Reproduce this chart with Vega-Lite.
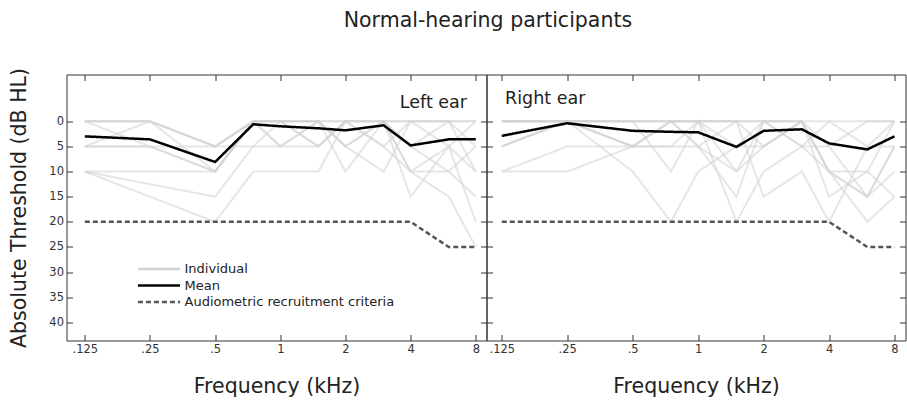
{
"$schema": "https://vega.github.io/schema/vega-lite/v6.json",
"padding": {"left": 8.5, "top": 10.5, "right": 0, "bottom": 0},
"spacing": 0,
"bounds": "flush",
"title": {"text": "Normal-hearing participants", "fontSize": 20.5, "fontWeight": "normal", "color": "#222", "anchor": "middle", "frame": "bounds", "dx": 30, "offset": 35},
"config": {
  "font": "DejaVu Sans",
  "view": {"stroke": "#333", "strokeWidth": 1},
  "axis": {"domain": false, "grid": false, "tickColor": "#333", "tickSize": -6, "labelPadding": 9, "labelFontSize": 11.5, "labelColor": "#333", "titleFontSize": 20.5, "titleFontWeight": "normal", "titleColor": "#222"}
},
"data": {"values": [
{"ear":"Left","series":"Individual","id":"L1","kHz":0.125,"dB":0},{"ear":"Left","series":"Individual","id":"L1","kHz":0.25,"dB":0},{"ear":"Left","series":"Individual","id":"L1","kHz":0.5,"dB":5},{"ear":"Left","series":"Individual","id":"L1","kHz":0.75,"dB":0},{"ear":"Left","series":"Individual","id":"L1","kHz":1,"dB":0},{"ear":"Left","series":"Individual","id":"L1","kHz":1.5,"dB":0},{"ear":"Left","series":"Individual","id":"L1","kHz":2,"dB":0},{"ear":"Left","series":"Individual","id":"L1","kHz":3,"dB":0},{"ear":"Left","series":"Individual","id":"L1","kHz":4,"dB":0},{"ear":"Left","series":"Individual","id":"L1","kHz":6,"dB":0},{"ear":"Left","series":"Individual","id":"L1","kHz":8,"dB":0},
{"ear":"Left","series":"Individual","id":"L2","kHz":0.125,"dB":0},{"ear":"Left","series":"Individual","id":"L2","kHz":0.25,"dB":0},{"ear":"Left","series":"Individual","id":"L2","kHz":0.5,"dB":10},{"ear":"Left","series":"Individual","id":"L2","kHz":0.75,"dB":0},{"ear":"Left","series":"Individual","id":"L2","kHz":1,"dB":0},{"ear":"Left","series":"Individual","id":"L2","kHz":1.5,"dB":5},{"ear":"Left","series":"Individual","id":"L2","kHz":2,"dB":0},{"ear":"Left","series":"Individual","id":"L2","kHz":3,"dB":0},{"ear":"Left","series":"Individual","id":"L2","kHz":4,"dB":10},{"ear":"Left","series":"Individual","id":"L2","kHz":6,"dB":5},{"ear":"Left","series":"Individual","id":"L2","kHz":8,"dB":0},
{"ear":"Left","series":"Individual","id":"L3","kHz":0.125,"dB":5},{"ear":"Left","series":"Individual","id":"L3","kHz":0.25,"dB":5},{"ear":"Left","series":"Individual","id":"L3","kHz":0.5,"dB":10},{"ear":"Left","series":"Individual","id":"L3","kHz":0.75,"dB":0},{"ear":"Left","series":"Individual","id":"L3","kHz":1,"dB":5},{"ear":"Left","series":"Individual","id":"L3","kHz":1.5,"dB":0},{"ear":"Left","series":"Individual","id":"L3","kHz":2,"dB":0},{"ear":"Left","series":"Individual","id":"L3","kHz":3,"dB":5},{"ear":"Left","series":"Individual","id":"L3","kHz":4,"dB":0},{"ear":"Left","series":"Individual","id":"L3","kHz":6,"dB":0},{"ear":"Left","series":"Individual","id":"L3","kHz":8,"dB":5},
{"ear":"Left","series":"Individual","id":"L4","kHz":0.125,"dB":10},{"ear":"Left","series":"Individual","id":"L4","kHz":0.25,"dB":10},{"ear":"Left","series":"Individual","id":"L4","kHz":0.5,"dB":10},{"ear":"Left","series":"Individual","id":"L4","kHz":0.75,"dB":0},{"ear":"Left","series":"Individual","id":"L4","kHz":1,"dB":0},{"ear":"Left","series":"Individual","id":"L4","kHz":1.5,"dB":0},{"ear":"Left","series":"Individual","id":"L4","kHz":2,"dB":5},{"ear":"Left","series":"Individual","id":"L4","kHz":3,"dB":0},{"ear":"Left","series":"Individual","id":"L4","kHz":4,"dB":5},{"ear":"Left","series":"Individual","id":"L4","kHz":6,"dB":0},{"ear":"Left","series":"Individual","id":"L4","kHz":8,"dB":10},
{"ear":"Left","series":"Individual","id":"L5","kHz":0.125,"dB":10},{"ear":"Left","series":"Individual","id":"L5","kHz":0.25,"dB":12.5},{"ear":"Left","series":"Individual","id":"L5","kHz":0.5,"dB":15},{"ear":"Left","series":"Individual","id":"L5","kHz":0.75,"dB":5},{"ear":"Left","series":"Individual","id":"L5","kHz":1,"dB":5},{"ear":"Left","series":"Individual","id":"L5","kHz":1.5,"dB":0},{"ear":"Left","series":"Individual","id":"L5","kHz":2,"dB":10},{"ear":"Left","series":"Individual","id":"L5","kHz":3,"dB":0},{"ear":"Left","series":"Individual","id":"L5","kHz":4,"dB":15},{"ear":"Left","series":"Individual","id":"L5","kHz":6,"dB":5},{"ear":"Left","series":"Individual","id":"L5","kHz":8,"dB":20},
{"ear":"Left","series":"Individual","id":"L6","kHz":0.125,"dB":10},{"ear":"Left","series":"Individual","id":"L6","kHz":0.25,"dB":15},{"ear":"Left","series":"Individual","id":"L6","kHz":0.5,"dB":20},{"ear":"Left","series":"Individual","id":"L6","kHz":0.75,"dB":10},{"ear":"Left","series":"Individual","id":"L6","kHz":1,"dB":10},{"ear":"Left","series":"Individual","id":"L6","kHz":1.5,"dB":10},{"ear":"Left","series":"Individual","id":"L6","kHz":2,"dB":0},{"ear":"Left","series":"Individual","id":"L6","kHz":3,"dB":5},{"ear":"Left","series":"Individual","id":"L6","kHz":4,"dB":10},{"ear":"Left","series":"Individual","id":"L6","kHz":6,"dB":15},{"ear":"Left","series":"Individual","id":"L6","kHz":8,"dB":25},
{"ear":"Left","series":"Individual","id":"L7","kHz":0.125,"dB":0},{"ear":"Left","series":"Individual","id":"L7","kHz":0.25,"dB":5},{"ear":"Left","series":"Individual","id":"L7","kHz":0.5,"dB":10},{"ear":"Left","series":"Individual","id":"L7","kHz":0.75,"dB":0},{"ear":"Left","series":"Individual","id":"L7","kHz":1,"dB":0},{"ear":"Left","series":"Individual","id":"L7","kHz":1.5,"dB":5},{"ear":"Left","series":"Individual","id":"L7","kHz":2,"dB":0},{"ear":"Left","series":"Individual","id":"L7","kHz":3,"dB":0},{"ear":"Left","series":"Individual","id":"L7","kHz":4,"dB":5},{"ear":"Left","series":"Individual","id":"L7","kHz":6,"dB":10},{"ear":"Left","series":"Individual","id":"L7","kHz":8,"dB":5},
{"ear":"Left","series":"Individual","id":"L8","kHz":0.125,"dB":5},{"ear":"Left","series":"Individual","id":"L8","kHz":0.25,"dB":0},{"ear":"Left","series":"Individual","id":"L8","kHz":0.5,"dB":5},{"ear":"Left","series":"Individual","id":"L8","kHz":0.75,"dB":0},{"ear":"Left","series":"Individual","id":"L8","kHz":1,"dB":0},{"ear":"Left","series":"Individual","id":"L8","kHz":1.5,"dB":0},{"ear":"Left","series":"Individual","id":"L8","kHz":2,"dB":5},{"ear":"Left","series":"Individual","id":"L8","kHz":3,"dB":0},{"ear":"Left","series":"Individual","id":"L8","kHz":4,"dB":0},{"ear":"Left","series":"Individual","id":"L8","kHz":6,"dB":0},{"ear":"Left","series":"Individual","id":"L8","kHz":8,"dB":0},
{"ear":"Left","series":"Individual","id":"L9","kHz":0.125,"dB":0},{"ear":"Left","series":"Individual","id":"L9","kHz":0.25,"dB":0},{"ear":"Left","series":"Individual","id":"L9","kHz":0.5,"dB":5},{"ear":"Left","series":"Individual","id":"L9","kHz":0.75,"dB":5},{"ear":"Left","series":"Individual","id":"L9","kHz":1,"dB":0},{"ear":"Left","series":"Individual","id":"L9","kHz":1.5,"dB":0},{"ear":"Left","series":"Individual","id":"L9","kHz":2,"dB":5},{"ear":"Left","series":"Individual","id":"L9","kHz":3,"dB":10},{"ear":"Left","series":"Individual","id":"L9","kHz":4,"dB":0},{"ear":"Left","series":"Individual","id":"L9","kHz":6,"dB":5},{"ear":"Left","series":"Individual","id":"L9","kHz":8,"dB":10},
{"ear":"Left","series":"Individual","id":"L10","kHz":0.125,"dB":5},{"ear":"Left","series":"Individual","id":"L10","kHz":0.25,"dB":5},{"ear":"Left","series":"Individual","id":"L10","kHz":0.5,"dB":5},{"ear":"Left","series":"Individual","id":"L10","kHz":0.75,"dB":0},{"ear":"Left","series":"Individual","id":"L10","kHz":1,"dB":5},{"ear":"Left","series":"Individual","id":"L10","kHz":1.5,"dB":5},{"ear":"Left","series":"Individual","id":"L10","kHz":2,"dB":0},{"ear":"Left","series":"Individual","id":"L10","kHz":3,"dB":0},{"ear":"Left","series":"Individual","id":"L10","kHz":4,"dB":10},{"ear":"Left","series":"Individual","id":"L10","kHz":6,"dB":10},{"ear":"Left","series":"Individual","id":"L10","kHz":8,"dB":15},
{"ear":"Right","series":"Individual","id":"R1","kHz":0.125,"dB":0},{"ear":"Right","series":"Individual","id":"R1","kHz":0.25,"dB":0},{"ear":"Right","series":"Individual","id":"R1","kHz":0.5,"dB":0},{"ear":"Right","series":"Individual","id":"R1","kHz":0.75,"dB":0},{"ear":"Right","series":"Individual","id":"R1","kHz":1,"dB":0},{"ear":"Right","series":"Individual","id":"R1","kHz":1.5,"dB":0},{"ear":"Right","series":"Individual","id":"R1","kHz":2,"dB":0},{"ear":"Right","series":"Individual","id":"R1","kHz":3,"dB":0},{"ear":"Right","series":"Individual","id":"R1","kHz":4,"dB":0},{"ear":"Right","series":"Individual","id":"R1","kHz":6,"dB":0},{"ear":"Right","series":"Individual","id":"R1","kHz":8,"dB":0},
{"ear":"Right","series":"Individual","id":"R2","kHz":0.125,"dB":5},{"ear":"Right","series":"Individual","id":"R2","kHz":0.25,"dB":0},{"ear":"Right","series":"Individual","id":"R2","kHz":0.5,"dB":5},{"ear":"Right","series":"Individual","id":"R2","kHz":0.75,"dB":5},{"ear":"Right","series":"Individual","id":"R2","kHz":1,"dB":5},{"ear":"Right","series":"Individual","id":"R2","kHz":1.5,"dB":10},{"ear":"Right","series":"Individual","id":"R2","kHz":2,"dB":0},{"ear":"Right","series":"Individual","id":"R2","kHz":3,"dB":0},{"ear":"Right","series":"Individual","id":"R2","kHz":4,"dB":10},{"ear":"Right","series":"Individual","id":"R2","kHz":6,"dB":10},{"ear":"Right","series":"Individual","id":"R2","kHz":8,"dB":0},
{"ear":"Right","series":"Individual","id":"R3","kHz":0.125,"dB":5},{"ear":"Right","series":"Individual","id":"R3","kHz":0.25,"dB":0},{"ear":"Right","series":"Individual","id":"R3","kHz":0.5,"dB":5},{"ear":"Right","series":"Individual","id":"R3","kHz":0.75,"dB":0},{"ear":"Right","series":"Individual","id":"R3","kHz":1,"dB":0},{"ear":"Right","series":"Individual","id":"R3","kHz":1.5,"dB":5},{"ear":"Right","series":"Individual","id":"R3","kHz":2,"dB":0},{"ear":"Right","series":"Individual","id":"R3","kHz":3,"dB":5},{"ear":"Right","series":"Individual","id":"R3","kHz":4,"dB":5},{"ear":"Right","series":"Individual","id":"R3","kHz":6,"dB":15},{"ear":"Right","series":"Individual","id":"R3","kHz":8,"dB":5},
{"ear":"Right","series":"Individual","id":"R4","kHz":0.125,"dB":10},{"ear":"Right","series":"Individual","id":"R4","kHz":0.25,"dB":10},{"ear":"Right","series":"Individual","id":"R4","kHz":0.5,"dB":5},{"ear":"Right","series":"Individual","id":"R4","kHz":0.75,"dB":0},{"ear":"Right","series":"Individual","id":"R4","kHz":1,"dB":5},{"ear":"Right","series":"Individual","id":"R4","kHz":1.5,"dB":15},{"ear":"Right","series":"Individual","id":"R4","kHz":2,"dB":0},{"ear":"Right","series":"Individual","id":"R4","kHz":3,"dB":5},{"ear":"Right","series":"Individual","id":"R4","kHz":4,"dB":0},{"ear":"Right","series":"Individual","id":"R4","kHz":6,"dB":5},{"ear":"Right","series":"Individual","id":"R4","kHz":8,"dB":0},
{"ear":"Right","series":"Individual","id":"R5","kHz":0.125,"dB":0},{"ear":"Right","series":"Individual","id":"R5","kHz":0.25,"dB":0},{"ear":"Right","series":"Individual","id":"R5","kHz":0.5,"dB":10},{"ear":"Right","series":"Individual","id":"R5","kHz":0.75,"dB":20},{"ear":"Right","series":"Individual","id":"R5","kHz":1,"dB":10},{"ear":"Right","series":"Individual","id":"R5","kHz":1.5,"dB":5},{"ear":"Right","series":"Individual","id":"R5","kHz":2,"dB":5},{"ear":"Right","series":"Individual","id":"R5","kHz":3,"dB":0},{"ear":"Right","series":"Individual","id":"R5","kHz":4,"dB":15},{"ear":"Right","series":"Individual","id":"R5","kHz":6,"dB":10},{"ear":"Right","series":"Individual","id":"R5","kHz":8,"dB":15},
{"ear":"Right","series":"Individual","id":"R6","kHz":0.125,"dB":0},{"ear":"Right","series":"Individual","id":"R6","kHz":0.25,"dB":0},{"ear":"Right","series":"Individual","id":"R6","kHz":0.5,"dB":0},{"ear":"Right","series":"Individual","id":"R6","kHz":0.75,"dB":10},{"ear":"Right","series":"Individual","id":"R6","kHz":1,"dB":0},{"ear":"Right","series":"Individual","id":"R6","kHz":1.5,"dB":20},{"ear":"Right","series":"Individual","id":"R6","kHz":2,"dB":10},{"ear":"Right","series":"Individual","id":"R6","kHz":3,"dB":5},{"ear":"Right","series":"Individual","id":"R6","kHz":4,"dB":10},{"ear":"Right","series":"Individual","id":"R6","kHz":6,"dB":15},{"ear":"Right","series":"Individual","id":"R6","kHz":8,"dB":5},
{"ear":"Right","series":"Individual","id":"R7","kHz":0.125,"dB":5},{"ear":"Right","series":"Individual","id":"R7","kHz":0.25,"dB":0},{"ear":"Right","series":"Individual","id":"R7","kHz":0.5,"dB":0},{"ear":"Right","series":"Individual","id":"R7","kHz":0.75,"dB":0},{"ear":"Right","series":"Individual","id":"R7","kHz":1,"dB":0},{"ear":"Right","series":"Individual","id":"R7","kHz":1.5,"dB":0},{"ear":"Right","series":"Individual","id":"R7","kHz":2,"dB":0},{"ear":"Right","series":"Individual","id":"R7","kHz":3,"dB":0},{"ear":"Right","series":"Individual","id":"R7","kHz":4,"dB":5},{"ear":"Right","series":"Individual","id":"R7","kHz":6,"dB":0},{"ear":"Right","series":"Individual","id":"R7","kHz":8,"dB":0},
{"ear":"Right","series":"Individual","id":"R8","kHz":0.125,"dB":0},{"ear":"Right","series":"Individual","id":"R8","kHz":0.25,"dB":0},{"ear":"Right","series":"Individual","id":"R8","kHz":0.5,"dB":0},{"ear":"Right","series":"Individual","id":"R8","kHz":0.75,"dB":0},{"ear":"Right","series":"Individual","id":"R8","kHz":1,"dB":5},{"ear":"Right","series":"Individual","id":"R8","kHz":1.5,"dB":0},{"ear":"Right","series":"Individual","id":"R8","kHz":2,"dB":15},{"ear":"Right","series":"Individual","id":"R8","kHz":3,"dB":10},{"ear":"Right","series":"Individual","id":"R8","kHz":4,"dB":20},{"ear":"Right","series":"Individual","id":"R8","kHz":6,"dB":5},{"ear":"Right","series":"Individual","id":"R8","kHz":8,"dB":5},
{"ear":"Right","series":"Individual","id":"R9","kHz":0.125,"dB":10},{"ear":"Right","series":"Individual","id":"R9","kHz":0.25,"dB":5},{"ear":"Right","series":"Individual","id":"R9","kHz":0.5,"dB":5},{"ear":"Right","series":"Individual","id":"R9","kHz":0.75,"dB":5},{"ear":"Right","series":"Individual","id":"R9","kHz":1,"dB":0},{"ear":"Right","series":"Individual","id":"R9","kHz":1.5,"dB":0},{"ear":"Right","series":"Individual","id":"R9","kHz":2,"dB":5},{"ear":"Right","series":"Individual","id":"R9","kHz":3,"dB":0},{"ear":"Right","series":"Individual","id":"R9","kHz":4,"dB":10},{"ear":"Right","series":"Individual","id":"R9","kHz":6,"dB":15},{"ear":"Right","series":"Individual","id":"R9","kHz":8,"dB":10},
{"ear":"Right","series":"Individual","id":"R10","kHz":0.125,"dB":0},{"ear":"Right","series":"Individual","id":"R10","kHz":0.25,"dB":0},{"ear":"Right","series":"Individual","id":"R10","kHz":0.5,"dB":5},{"ear":"Right","series":"Individual","id":"R10","kHz":0.75,"dB":0},{"ear":"Right","series":"Individual","id":"R10","kHz":1,"dB":0},{"ear":"Right","series":"Individual","id":"R10","kHz":1.5,"dB":10},{"ear":"Right","series":"Individual","id":"R10","kHz":2,"dB":5},{"ear":"Right","series":"Individual","id":"R10","kHz":3,"dB":0},{"ear":"Right","series":"Individual","id":"R10","kHz":4,"dB":10},{"ear":"Right","series":"Individual","id":"R10","kHz":6,"dB":20},{"ear":"Right","series":"Individual","id":"R10","kHz":8,"dB":15},
{"ear":"Left","series":"Audiometric recruitment criteria","id":"CL","kHz":0.125,"dB":20},{"ear":"Left","series":"Audiometric recruitment criteria","id":"CL","kHz":4,"dB":20},{"ear":"Left","series":"Audiometric recruitment criteria","id":"CL","kHz":6,"dB":25},{"ear":"Left","series":"Audiometric recruitment criteria","id":"CL","kHz":8,"dB":25},
{"ear":"Right","series":"Audiometric recruitment criteria","id":"CR","kHz":0.125,"dB":20},{"ear":"Right","series":"Audiometric recruitment criteria","id":"CR","kHz":4,"dB":20},{"ear":"Right","series":"Audiometric recruitment criteria","id":"CR","kHz":6,"dB":25},{"ear":"Right","series":"Audiometric recruitment criteria","id":"CR","kHz":8,"dB":25},
{"ear":"Left","series":"Mean","id":"ML","kHz":0.125,"dB":3.0},{"ear":"Left","series":"Mean","id":"ML","kHz":0.25,"dB":3.6},{"ear":"Left","series":"Mean","id":"ML","kHz":0.5,"dB":8.1},{"ear":"Left","series":"Mean","id":"ML","kHz":0.75,"dB":0.6},{"ear":"Left","series":"Mean","id":"ML","kHz":1,"dB":1.0},{"ear":"Left","series":"Mean","id":"ML","kHz":1.5,"dB":1.4},{"ear":"Left","series":"Mean","id":"ML","kHz":2,"dB":1.8},{"ear":"Left","series":"Mean","id":"ML","kHz":3,"dB":0.8},{"ear":"Left","series":"Mean","id":"ML","kHz":4,"dB":4.8},{"ear":"Left","series":"Mean","id":"ML","kHz":6,"dB":3.6},{"ear":"Left","series":"Mean","id":"ML","kHz":8,"dB":3.6},
{"ear":"Right","series":"Mean","id":"MR","kHz":0.125,"dB":2.9},{"ear":"Right","series":"Mean","id":"MR","kHz":0.25,"dB":0.4},{"ear":"Right","series":"Mean","id":"MR","kHz":0.5,"dB":1.9},{"ear":"Right","series":"Mean","id":"MR","kHz":0.75,"dB":2.1},{"ear":"Right","series":"Mean","id":"MR","kHz":1,"dB":2.2},{"ear":"Right","series":"Mean","id":"MR","kHz":1.5,"dB":5.1},{"ear":"Right","series":"Mean","id":"MR","kHz":2,"dB":1.9},{"ear":"Right","series":"Mean","id":"MR","kHz":3,"dB":1.6},{"ear":"Right","series":"Mean","id":"MR","kHz":4,"dB":4.4},{"ear":"Right","series":"Mean","id":"MR","kHz":6,"dB":5.6},{"ear":"Right","series":"Mean","id":"MR","kHz":8,"dB":3.0}
]},
"hconcat": [
{
  "width": 420, "height": 266,
  "title": {"text": "Left ear", "anchor": "end", "offset": -44, "dx": -20, "fontSize": 17.5, "fontWeight": "normal", "color": "#222"},
  "transform": [{"filter": "datum.ear === 'Left'"}],
  "layer": [
    {
      "transform": [{"filter": "datum.series === 'Individual'"}],
      "mark": {"type": "line", "strokeWidth": 2, "strokeOpacity": 0.55},
      "encoding": {
        "x": {"field": "kHz", "type": "quantitative", "scale": {"type": "log", "base": 2, "domain": [0.10288, 8.965], "nice": false, "zero": false},
              "axis": {"orient": "bottom", "values": [0.125, 0.25, 0.5, 1, 2, 4, 8], "labelExpr": "datum.value == 0.125 ? '.125' : datum.value == 0.25 ? '.25' : datum.value == 0.5 ? '.5' : '' + datum.value", "title": "Frequency (kHz)", "titlePadding": 21}},
        "y": {"field": "dB", "type": "quantitative", "scale": {"domain": [-9.3, 43.6], "reverse": true, "nice": false, "zero": false},
              "axis": {"orient": "left", "values": [0, 5, 10, 15, 20, 25, 30, 35, 40], "title": "Absolute Threshold (dB HL)", "titlePadding": 19}},
        "detail": {"field": "id"},
        "color": {"field": "series", "type": "nominal", "scale": {"domain": ["Individual", "Mean", "Audiometric recruitment criteria"], "range": ["#d2d2d2", "#000000", "#555555"]}},
        "strokeDash": {"field": "series", "type": "nominal", "scale": {"domain": ["Individual", "Mean", "Audiometric recruitment criteria"], "range": [[1, 0], [1, 0], [5, 3]]}}
      }
    },
    {
      "transform": [{"filter": "datum.series === 'Audiometric recruitment criteria'"}],
      "mark": {"type": "line", "strokeWidth": 2.5},
      "encoding": {
        "x": {"field": "kHz", "type": "quantitative", "axis": null},
        "y": {"field": "dB", "type": "quantitative", "axis": null},
        "color": {"field": "series", "type": "nominal"},
        "strokeDash": {"field": "series", "type": "nominal"}
      }
    },
    {
      "transform": [{"filter": "datum.series === 'Mean'"}],
      "mark": {"type": "line", "strokeWidth": 2.5},
      "encoding": {
        "x": {"field": "kHz", "type": "quantitative", "axis": null},
        "y": {"field": "dB", "type": "quantitative", "axis": null},
        "color": {"field": "series", "type": "nominal",
                  "legend": {"orient": "none", "legendX": 86, "legendY": 188, "title": null, "symbolType": "M-5,0H5", "symbolSize": 71, "symbolStrokeWidth": 2.5, "symbolOpacity": 1, "labelFontSize": 13, "labelColor": "#222", "labelOffset": 19, "labelLimit": 400, "padding": 0, "rowPadding": 2.5}},
        "strokeDash": {"field": "series", "type": "nominal"}
      }
    },
    {
      "transform": [{"filter": "datum.series === 'Mean'"}],
      "mark": {"type": "line", "opacity": 0},
      "encoding": {
        "x": {"field": "kHz", "type": "quantitative", "axis": {"orient": "top", "values": [0.125, 0.25, 0.5, 1, 2, 4, 8], "labels": false, "title": null}},
        "y": {"field": "dB", "type": "quantitative", "axis": {"orient": "right", "values": [0, 5, 10, 15, 20, 25, 30, 35, 40], "labels": false, "title": null}}
      }
    }
  ]
},
{
  "width": 419, "height": 266,
  "title": {"text": "Right ear", "anchor": "start", "offset": -33, "dx": 19, "fontSize": 17.5, "fontWeight": "normal", "color": "#222"},
  "transform": [{"filter": "datum.ear === 'Right'"}],
  "layer": [
    {
      "transform": [{"filter": "datum.series === 'Individual'"}],
      "mark": {"type": "line", "strokeWidth": 2, "strokeOpacity": 0.55},
      "encoding": {
        "x": {"field": "kHz", "type": "quantitative", "scale": {"type": "log", "base": 2, "domain": [0.10631, 8.988], "nice": false, "zero": false},
              "axis": {"orient": "bottom", "values": [0.125, 0.25, 0.5, 1, 2, 4, 8], "labelExpr": "datum.value == 0.125 ? '.125' : datum.value == 0.25 ? '.25' : datum.value == 0.5 ? '.5' : '' + datum.value", "title": "Frequency (kHz)", "titlePadding": 21}},
        "y": {"field": "dB", "type": "quantitative", "scale": {"domain": [-9.3, 43.6], "reverse": true, "nice": false, "zero": false},
              "axis": {"orient": "left", "values": [0, 5, 10, 15, 20, 25, 30, 35, 40], "labels": false, "title": null}},
        "detail": {"field": "id"},
        "color": {"field": "series", "type": "nominal", "scale": {"domain": ["Individual", "Mean", "Audiometric recruitment criteria"], "range": ["#d2d2d2", "#000000", "#555555"]}, "legend": null},
        "strokeDash": {"field": "series", "type": "nominal", "scale": {"domain": ["Individual", "Mean", "Audiometric recruitment criteria"], "range": [[1, 0], [1, 0], [5, 3]]}, "legend": null}
      }
    },
    {
      "transform": [{"filter": "datum.series === 'Audiometric recruitment criteria'"}],
      "mark": {"type": "line", "strokeWidth": 2.5},
      "encoding": {
        "x": {"field": "kHz", "type": "quantitative", "axis": null},
        "y": {"field": "dB", "type": "quantitative", "axis": null},
        "color": {"field": "series", "type": "nominal", "legend": null},
        "strokeDash": {"field": "series", "type": "nominal", "legend": null}
      }
    },
    {
      "transform": [{"filter": "datum.series === 'Mean'"}],
      "mark": {"type": "line", "strokeWidth": 2.5},
      "encoding": {
        "x": {"field": "kHz", "type": "quantitative", "axis": null},
        "y": {"field": "dB", "type": "quantitative", "axis": null},
        "color": {"field": "series", "type": "nominal", "legend": null},
        "strokeDash": {"field": "series", "type": "nominal", "legend": null}
      }
    },
    {
      "transform": [{"filter": "datum.series === 'Mean'"}],
      "mark": {"type": "line", "opacity": 0},
      "encoding": {
        "x": {"field": "kHz", "type": "quantitative", "axis": {"orient": "top", "values": [0.125, 0.25, 0.5, 1, 2, 4, 8], "labels": false, "title": null}},
        "y": {"field": "dB", "type": "quantitative", "axis": {"orient": "right", "values": [0, 5, 10, 15, 20, 25, 30, 35, 40], "labels": false, "title": null}}
      }
    }
  ]
}
]
}
